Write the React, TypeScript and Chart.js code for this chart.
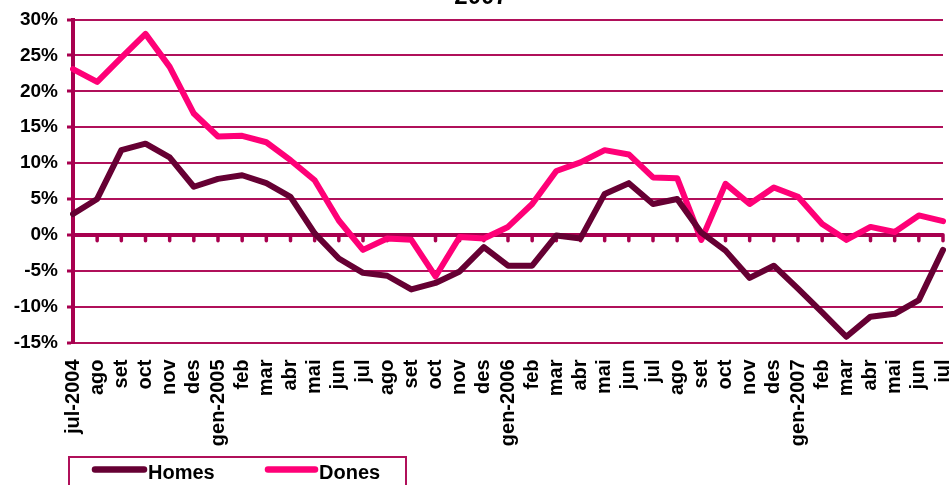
import React, { useEffect, useRef } from "react";
import { Chart, registerables } from "chart.js";

Chart.register(...registerables);

const categories = [
  "jul-2004", "ago", "set", "oct", "nov", "des",
  "gen-2005", "feb", "mar", "abr", "mai", "jun", "jul", "ago", "set", "oct", "nov", "des",
  "gen-2006", "feb", "mar", "abr", "mai", "jun", "jul", "ago", "set", "oct", "nov", "des",
  "gen-2007", "feb", "mar", "abr", "mai", "jun", "jul",
];

const homes = [
  2.9, 5.0, 11.8, 12.7, 10.8, 6.7,
  7.8, 8.3, 7.2, 5.3, 0.2, -3.3, -5.3, -5.7, -7.6, -6.7, -5.1, -1.7,
  -4.3, -4.3, -0.1, -0.5, 5.7, 7.2, 4.3, 5.0, 0.3, -2.2, -6.0, -4.3,
  -7.5, -10.8, -14.2, -11.4, -11.0, -9.1, -2.1,
];

const dones = [
  23.1, 21.3, 24.7, 28.0, 23.4, 16.9,
  13.7, 13.8, 12.9, 10.4, 7.6, 2.0, -2.1, -0.5, -0.7, -5.8, -0.3, -0.5,
  1.1, 4.3, 8.9, 10.1, 11.8, 11.2, 8.0, 7.9, -0.7, 7.1, 4.3, 6.6,
  5.3, 1.5, -0.7, 1.1, 0.4, 2.7, 1.9,
];

const seriesNames = ["Homes", "Dones"];
const titleText = "2007";
const yMin = -15;
const yMax = 30;
const yStep = 5;

const HOMES_COLOR = "#660033";
const DONES_COLOR = "#FF0077";
const GRID_COLOR = "#B0105A";
const AXIS_COLOR = "#A8004F";
const FONT = "'Liberation Sans', Arial, sans-serif";

export default function App() {
  const ref = useRef<HTMLCanvasElement | null>(null);

  useEffect(() => {
    if (!ref.current) return;

    const zeroTicks = {
      id: "zeroTicks",
      beforeDatasetsDraw(chart: any) {
        const { ctx, scales } = chart;
        const x = scales.x;
        const y = scales.y;
        const y0 = y.getPixelForValue(0);
        ctx.save();
        ctx.strokeStyle = AXIS_COLOR;
        ctx.lineWidth = 3.5;
        ctx.lineCap = "round";
        for (let i = 1; i < categories.length; i++) {
          const px = x.getPixelForValue(i);
          ctx.beginPath();
          ctx.moveTo(px, y0);
          ctx.lineTo(px, y0 + 6);
          ctx.stroke();
        }
        ctx.restore();
      },
    };

    const extras = {
      id: "extras",
      afterDraw(chart: any) {
        const { ctx } = chart;
        ctx.save();
        // title (partially cut at top)
        ctx.fillStyle = "#000";
        ctx.font = `bold 24px ${FONT}`;
        ctx.textAlign = "center";
        ctx.textBaseline = "alphabetic";
        ctx.fillText(titleText, 481, 4);

        // legend box
        ctx.strokeStyle = GRID_COLOR;
        ctx.lineWidth = 2;
        ctx.strokeRect(69, 457, 337, 40);

        const items = [
          { name: seriesNames[0], color: HOMES_COLOR, x1: 95, x2: 144, tx: 148 },
          { name: seriesNames[1], color: DONES_COLOR, x1: 268, x2: 315, tx: 319 },
        ];
        ctx.font = `bold 20px ${FONT}`;
        ctx.textAlign = "left";
        for (const it of items) {
          ctx.strokeStyle = it.color;
          ctx.lineWidth = 6.5;
          ctx.lineCap = "round";
          ctx.beginPath();
          ctx.moveTo(it.x1, 469.5);
          ctx.lineTo(it.x2, 469.5);
          ctx.stroke();
          ctx.fillStyle = "#000";
          ctx.fillText(it.name, it.tx, 479);
        }
        ctx.restore();
      },
    };

    const chart = new Chart(ref.current, {
      type: "line",
      data: {
        labels: categories,
        datasets: [
          {
            label: seriesNames[0],
            data: homes,
            borderColor: HOMES_COLOR,
            backgroundColor: HOMES_COLOR,
            borderWidth: 6,
            pointRadius: 0,
            tension: 0,
            borderJoinStyle: "round",
            borderCapStyle: "round",
          },
          {
            label: seriesNames[1],
            data: dones,
            borderColor: DONES_COLOR,
            backgroundColor: DONES_COLOR,
            borderWidth: 6,
            pointRadius: 0,
            tension: 0,
            borderJoinStyle: "round",
            borderCapStyle: "round",
          },
        ],
      },
      options: {
        animation: false,
        responsive: false,
        maintainAspectRatio: false,
        layout: { padding: { top: 19.5, right: 6, left: 0, bottom: 0 } },
        plugins: {
          legend: { display: false },
          title: { display: false },
          tooltip: { enabled: false },
        },
        scales: {
          x: {
            type: "category",
            offset: false,
            grid: { display: false, drawTicks: false },
            border: { display: false },
            ticks: {
              autoSkip: false,
              minRotation: 90,
              maxRotation: 90,
              padding: 17,
              color: "#000",
              font: { family: FONT, size: 20, weight: "bold" },
            },
            afterFit(scale: any) {
              scale.height = 142.5;
              scale.paddingLeft = 0;
              scale.paddingRight = 0;
            },
          },
          y: {
            min: yMin,
            max: yMax,
            grid: {
              color: (c: any) => (c.tick && c.tick.value === 0 ? AXIS_COLOR : GRID_COLOR),
              lineWidth: (c: any) => (c.tick && c.tick.value === 0 ? 4 : 2),
              drawTicks: true,
              tickLength: 6,
              tickColor: AXIS_COLOR,
              tickWidth: 3,
            },
            border: { display: true, color: AXIS_COLOR, width: 4 },
            ticks: {
              stepSize: yStep,
              padding: 9,
              color: "#000",
              font: { family: FONT, size: 19, weight: "bold" },
              callback: (v: any) => `${v}%`,
            },
            afterFit(scale: any) {
              scale.width = 73;
              scale.paddingTop = 0;
              scale.paddingBottom = 0;
            },
          },
        },
      },
      plugins: [zeroTicks, extras],
    });

    return () => chart.destroy();
  }, []);

  return (
    <div style={{ position: "fixed", left: 0, top: 0, width: 949, height: 485, background: "#fff" }}>
      <canvas ref={ref} width={949} height={485} style={{ width: 949, height: 485, display: "block" }} />
    </div>
  );
}
